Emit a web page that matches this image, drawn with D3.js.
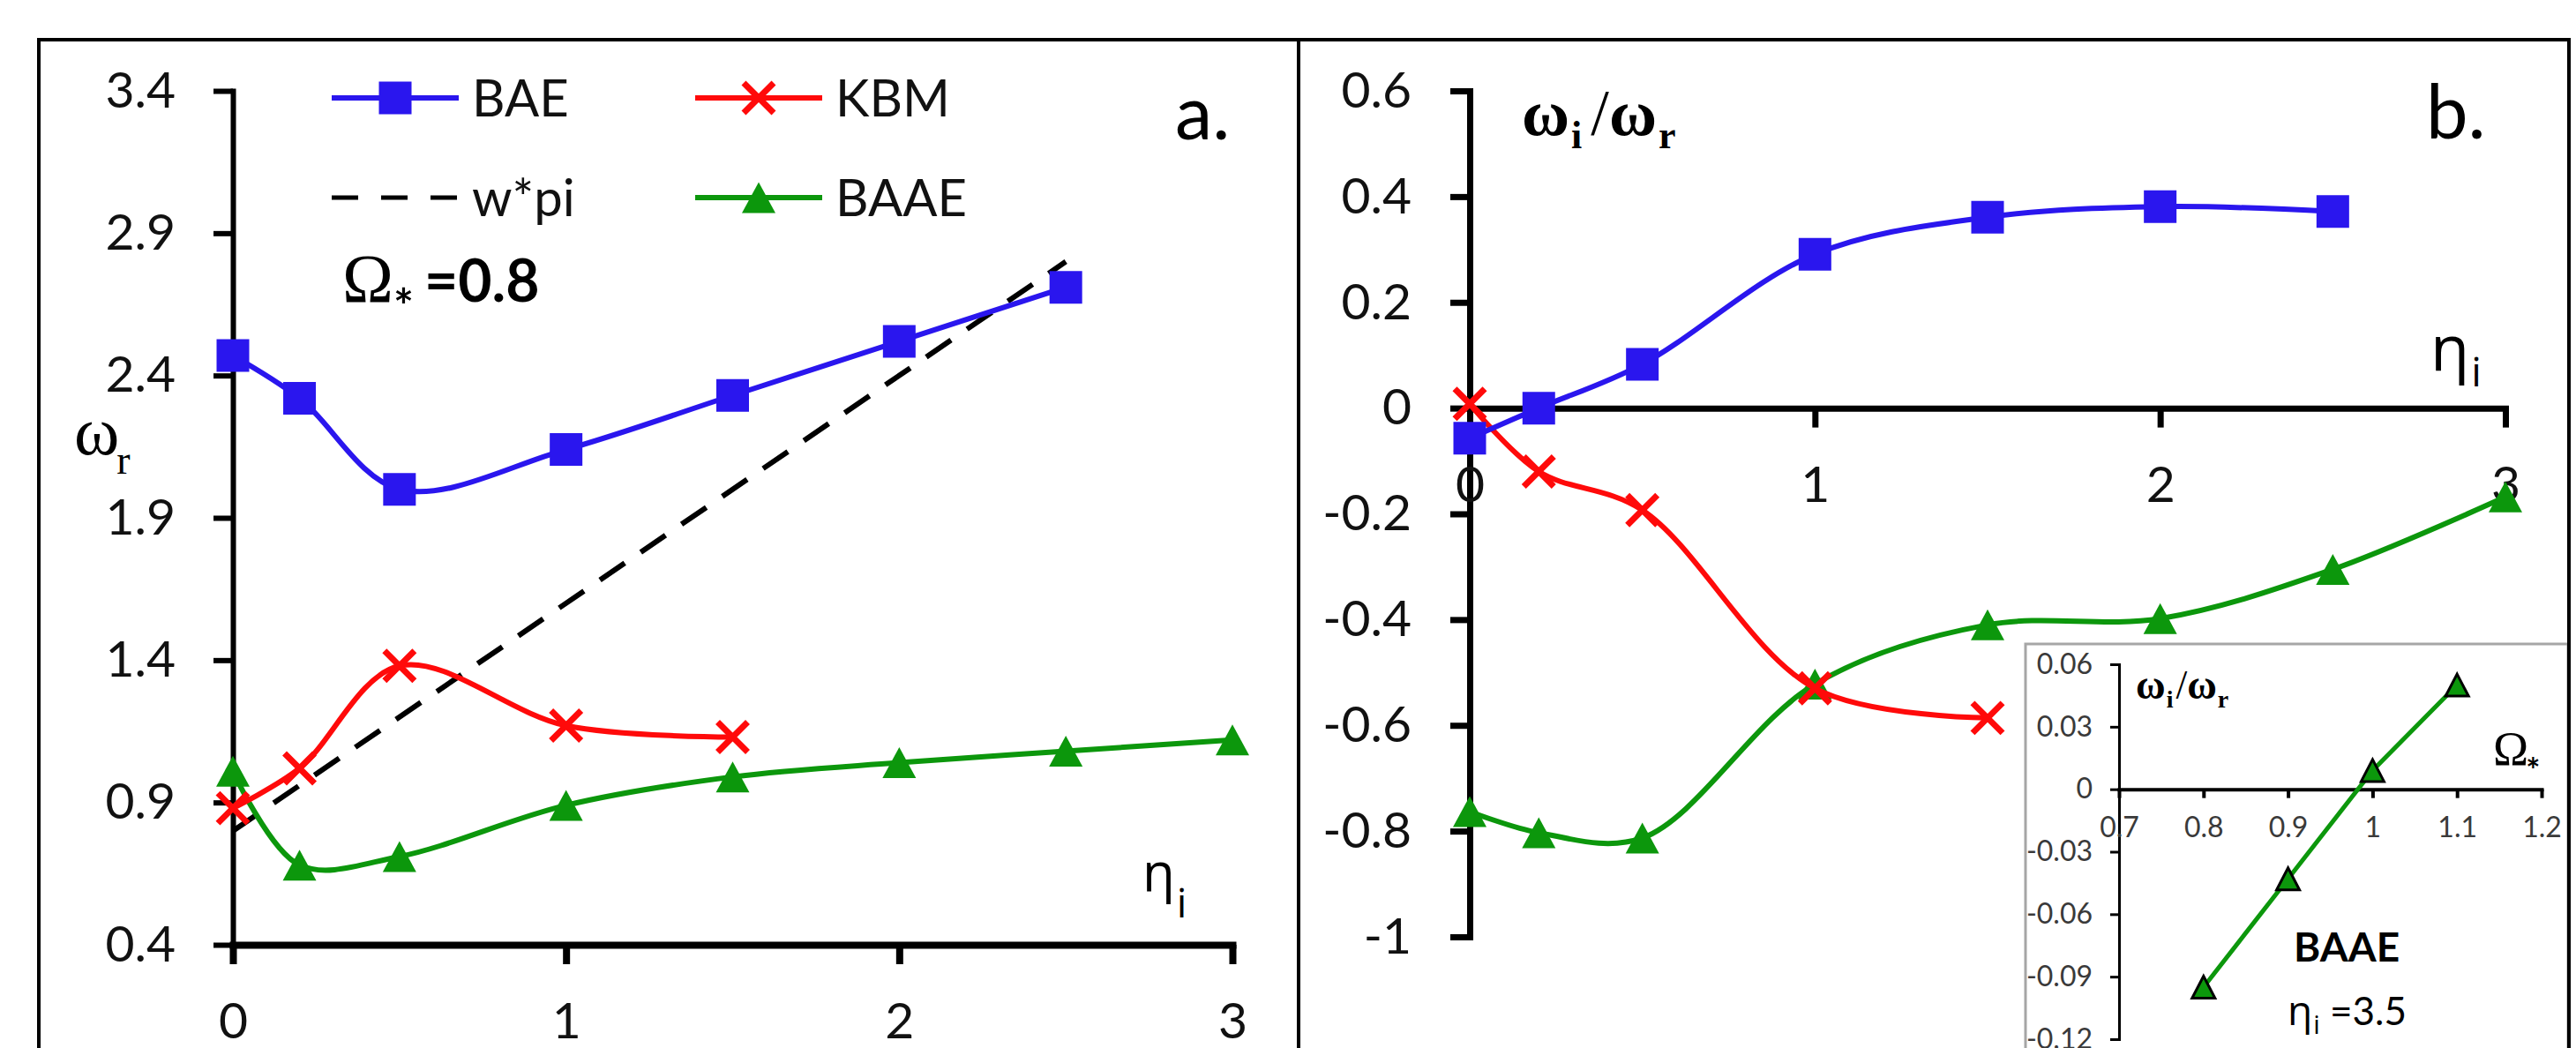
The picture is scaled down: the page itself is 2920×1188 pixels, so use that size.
<!DOCTYPE html>
<html>
<head>
<meta charset="utf-8">
<script src="https://cdn.jsdelivr.net/npm/d3@7"></script>
<style>
  body { margin: 0; background: #fff; }
  svg { display: block; }
</style>
</head>
<body>
<div id="chart"></div>
<script>
// values
const etaValues = [0, 0.2, 0.5, 1, 1.5, 2, 2.5, 3];

// panel a: omega_r
const baeOmegaR = [2.47, 2.32, 2.0, 2.14, 2.33, 2.52, 2.71];
const kbmOmegaR = [0.88, 1.02, 1.38, 1.17, 1.13];
const baaeOmegaR = [1.01, 0.68, 0.71, 0.89, 0.99, 1.04, 1.08, 1.12];
const wpiEta = [0, 2.5];
const wpiOmegaR = [0.8, 2.8];

// panel b: omega_i / omega_r
const baeRatio = [-0.057, 0.0, 0.083, 0.291, 0.361, 0.381, 0.372];
const kbmRatio = [0.008, -0.12, -0.193, -0.53, -0.586];
const baaeRatio = [-0.763, -0.803, -0.813, -0.522, -0.41, -0.398, -0.305, -0.168];

// inset: BAAE at eta_i = 3.5
const insetOmegaStar = [0.8, 0.9, 1.0, 1.1];
const insetRatio = [-0.095, -0.043, 0.009, 0.05];

const xTicksEta = [0, 1, 2, 3];
const yTicksA = [0.4, 0.9, 1.4, 1.9, 2.4, 2.9, 3.4];
const yTicksB = [-1, -0.8, -0.6, -0.4, -0.2, 0, 0.2, 0.4, 0.6];
const xTicksInset = [0.7, 0.8, 0.9, 1, 1.1, 1.2];
const yTicksInset = [-0.12, -0.09, -0.06, -0.03, 0, 0.03, 0.06];

const legendItems = [
    { name: "BAE", color: "#2a16ee", marker: "square" },
    { name: "KBM", color: "#ff0a0a", marker: "cross" },
    { name: "w*pi", color: "#000", marker: null, dashed: true },
    { name: "BAAE", color: "#0c970c", marker: "triangle" }
];

const BLUE = "#2a16ee", RED = "#ff0a0a", GREEN = "#0c970c";
const SANS = "Lato, 'Open Sans', sans-serif";
const SERIF = "'Liberation Serif', 'DejaVu Serif', serif";
const GREEK = "'Open Sans', 'Noto Sans', sans-serif";

const W = 2920, H = 1188;
const svg = d3.select("#chart").append("svg")
    .attr("width", W)
    .attr("height", H);

svg.append("rect").attr("width", W).attr("height", H).attr("fill", "#fff");

// outer frame + divider
svg.append("rect")
    .attr("x", 44).attr("y", 45)
    .attr("width", 2868).attr("height", 1300)
    .attr("fill", "none").attr("stroke", "#000").attr("stroke-width", 4);
svg.append("line")
    .attr("x1", 1472).attr("x2", 1472).attr("y1", 45).attr("y2", H + 10)
    .attr("stroke", "#000").attr("stroke-width", 4);

// scales
const xA = d3.scaleLinear().domain([0, 3]).range([264, 1397]);
const yA = d3.scaleLinear().domain([0.4, 3.4]).range([1071, 103]);
const xB = d3.scaleLinear().domain([0, 3]).range([1666, 2840]);
const yB = d3.scaleLinear().domain([-1, 0.6]).range([1062, 103]);
const xI = d3.scaleLinear().domain([0.7, 1.2]).range([2402, 2881]);
const yI = d3.scaleLinear().domain([-0.12, 0.06]).range([1178, 753]);

function styleAxis(g, size, color, width) {
    g.attr("font-family", SANS).attr("font-size", size);
    g.select(".domain").attr("stroke-width", width).attr("stroke-linecap", "square");
    g.selectAll(".tick line").attr("stroke-width", width);
    g.selectAll(".tick text").attr("fill", color);
}

const fmt = d => String(d);

// ---- panel a axes
svg.append("g")
    .attr("transform", `translate(${xA(0)},0)`)
    .call(d3.axisLeft(yA).tickValues(yTicksA).tickFormat(fmt).tickSize(22).tickSizeOuter(0).tickPadding(43))
    .call(g => styleAxis(g, 57, "#111", 6));
svg.append("g")
    .attr("transform", `translate(0,${yA(0.4)})`)
    .call(d3.axisBottom(xA).tickValues(xTicksEta).tickFormat(fmt).tickSize(22).tickSizeOuter(0).tickPadding(44))
    .call(g => styleAxis(g, 57, "#111", 8));

// ---- panel b axes
svg.append("g")
    .attr("transform", `translate(${xB(0)},0)`)
    .call(d3.axisLeft(yB).tickValues(yTicksB).tickFormat(fmt).tickSize(22).tickSizeOuter(0).tickPadding(44))
    .call(g => styleAxis(g, 57, "#111", 7));
svg.append("g")
    .attr("transform", `translate(0,${yB(0)})`)
    .call(d3.axisBottom(xB).tickValues(xTicksEta).tickFormat(fmt).tickSize(22).tickSizeOuter(0).tickPadding(44))
    .call(g => styleAxis(g, 57, "#111", 7));

// markers
const squarePath = d3.symbol(d3.symbolSquare, 37 * 37)();
const trianglePath = (w, h) => `M0,${-h / 2}L${w / 2},${h / 2}L${-w / 2},${h / 2}Z`;
const crossPath = "M-17,-17L17,17M-17,17L17,-17";

function drawMarker(g, type, color, px, py) {
    if (type === "square") {
        g.append("path").attr("d", squarePath).attr("fill", color)
            .attr("transform", `translate(${px},${py})`);
    } else if (type === "cross") {
        g.append("path").attr("d", crossPath).attr("fill", "none")
            .attr("stroke", color).attr("stroke-width", 7)
            .attr("transform", `translate(${px},${py})`);
    } else if (type === "triangle") {
        g.append("path").attr("d", trianglePath(38, 35)).attr("fill", color)
            .attr("transform", `translate(${px},${py})`);
    }
}

function drawSeries(xs, ys, x, y, color, marker, width) {
    const pts = ys.map((v, i) => [x(xs[i]), y(v)]);
    const g = svg.append("g");
    g.append("path")
        .attr("d", d3.line().curve(d3.curveCatmullRom.alpha(0.5))(pts))
        .attr("fill", "none")
        .attr("stroke", color)
        .attr("stroke-width", width);
    pts.forEach(p => drawMarker(g, marker, color, p[0], p[1]));
}

// ---- panel a series
svg.append("path")
    .attr("d", d3.line()(wpiEta.map((e, i) => [xA(e), yA(wpiOmegaR[i])])))
    .attr("fill", "none")
    .attr("stroke", "#000")
    .attr("stroke-width", 6)
    .attr("stroke-dasharray", "34,22");
drawSeries(etaValues, baaeOmegaR, xA, yA, GREEN, "triangle", 6);
drawSeries(etaValues, kbmOmegaR, xA, yA, RED, "cross", 6);
drawSeries(etaValues, baeOmegaR, xA, yA, BLUE, "square", 6);

// ---- panel b series
drawSeries(etaValues, baaeRatio, xB, yB, GREEN, "triangle", 6);
drawSeries(etaValues, kbmRatio, xB, yB, RED, "cross", 6);
drawSeries(etaValues, baeRatio, xB, yB, BLUE, "square", 6);

// ---- legend (panel a)
const legendCols = [376, 788], legendRows = [111, 224];
legendItems.forEach((d, i) => {
    const x0 = legendCols[i % 2], y0 = legendRows[Math.floor(i / 2)];
    const g = svg.append("g");
    g.append("line")
        .attr("x1", x0).attr("x2", x0 + 144)
        .attr("y1", y0).attr("y2", y0)
        .attr("stroke", d.color)
        .attr("stroke-width", d.dashed ? 5 : 6)
        .attr("stroke-dasharray", d.dashed ? "30,26" : null);
    if (d.marker) drawMarker(g, d.marker, d.color, x0 + 72, y0);
    g.append("text")
        .attr("x", x0 + 159).attr("y", y0 + 21)
        .attr("font-family", SANS).attr("font-size", 58)
        .attr("fill", "#111")
        .text(d.name);
});

// rich text helper: parts = [{t, size, family, weight, dx, dy}]
function richText(x, y, parts) {
    const t = svg.append("text").attr("x", x).attr("y", y).attr("fill", "#000");
    parts.forEach(p => t.append("tspan")
        .attr("font-size", p.size)
        .attr("font-family", p.family)
        .attr("font-weight", p.weight || "normal")
        .attr("dx", p.dx || 0)
        .attr("dy", p.dy || 0)
        .text(p.t));
    return t;
}

// ---- panel a labels
richText(388, 342, [
    { t: "Ω", size: 78, family: SERIF },
    { t: "*", size: 54, family: SANS, weight: "bold", dy: 24, dx: 0 },
    { t: "=0.8", size: 66, family: SANS, weight: "bold", dy: -24, dx: 12 }
]);
richText(1332, 158, [{ t: "a.", size: 85, family: SANS }]);
richText(84, 515, [
    { t: "ω", size: 78, family: SERIF },
    { t: "r", size: 46, family: SERIF, dy: 22, dx: -3 }
]);
richText(1295, 1010, [
    { t: "η", size: 60, family: GREEK },
    { t: "i", size: 46, family: GREEK, dy: 30, dx: 2 }
]);

// ---- panel b labels
richText(2750, 157, [{ t: "b.", size: 85, family: SANS }]);
richText(1725, 153, [
    { t: "ω", size: 74, family: SERIF, weight: "bold" },
    { t: "i", size: 44, family: SERIF, weight: "bold", dy: 15, dx: 2 },
    { t: "/", size: 74, family: SERIF, dy: -15, dx: 10 },
    { t: "ω", size: 74, family: SERIF, weight: "bold" },
    { t: "r", size: 44, family: SERIF, weight: "bold", dy: 15, dx: 2 }
]);
richText(2755, 420, [
    { t: "η", size: 72, family: GREEK },
    { t: "i", size: 46, family: GREEK, dy: 18, dx: 2 }
]);

// ---- inset
const inset = svg.append("g");
inset.append("rect")
    .attr("x", 2296).attr("y", 730)
    .attr("width", 615).attr("height", 600)
    .attr("fill", "#fff")
    .attr("stroke", "#a6a6a6").attr("stroke-width", 3);
svg.append("line")
    .attr("x1", 2912).attr("x2", 2912).attr("y1", 45).attr("y2", H + 10)
    .attr("stroke", "#000").attr("stroke-width", 4);

svg.append("g")
    .attr("transform", `translate(${xI(0.7)},0)`)
    .call(d3.axisLeft(yI).tickValues(yTicksInset).tickFormat(fmt).tickSize(10).tickSizeOuter(0).tickPadding(20))
    .call(g => styleAxis(g, 32, "#3a3a3a", 3));
svg.append("g")
    .attr("transform", `translate(0,${yI(0)})`)
    .call(d3.axisBottom(xI).tickValues(xTicksInset).tickFormat(fmt).tickSize(10).tickSizeOuter(0).tickPadding(22))
    .call(g => styleAxis(g, 32, "#3a3a3a", 4));

const insetPts = insetRatio.map((v, i) => [xI(insetOmegaStar[i]), yI(v)]);
svg.append("path")
    .attr("d", d3.line()(insetPts))
    .attr("fill", "none")
    .attr("stroke", GREEN)
    .attr("stroke-width", 5);
svg.selectAll("path.insetTri")
    .data(insetPts)
    .join("path")
    .attr("class", "insetTri")
    .attr("d", trianglePath(26, 25))
    .attr("transform", d => `translate(${d[0]},${d[1]})`)
    .attr("fill", GREEN)
    .attr("stroke", "#000")
    .attr("stroke-width", 3);

richText(2421, 792, [
    { t: "ω", size: 46, family: SERIF, weight: "bold" },
    { t: "i", size: 28, family: SERIF, weight: "bold", dy: 10, dx: 1 },
    { t: "/", size: 46, family: SERIF, dy: -10, dx: 3 },
    { t: "ω", size: 46, family: SERIF, weight: "bold" },
    { t: "r", size: 28, family: SERIF, weight: "bold", dy: 10, dx: 1 }
]);
richText(2826, 867, [
    { t: "Ω", size: 54, family: SERIF },
    { t: "*", size: 38, family: SANS, weight: "bold", dy: 20, dx: -3 }
]);
richText(2600, 1090, [{ t: "BAAE", size: 46, family: SANS, weight: "bold" }]);
richText(2593, 1162, [
    { t: "η", size: 46, family: GREEK },
    { t: "i", size: 30, family: GREEK, dy: 10, dx: 1 },
    { t: " =3.5", size: 44, family: SANS, dy: -10 }
]);
</script>
</body>
</html>
